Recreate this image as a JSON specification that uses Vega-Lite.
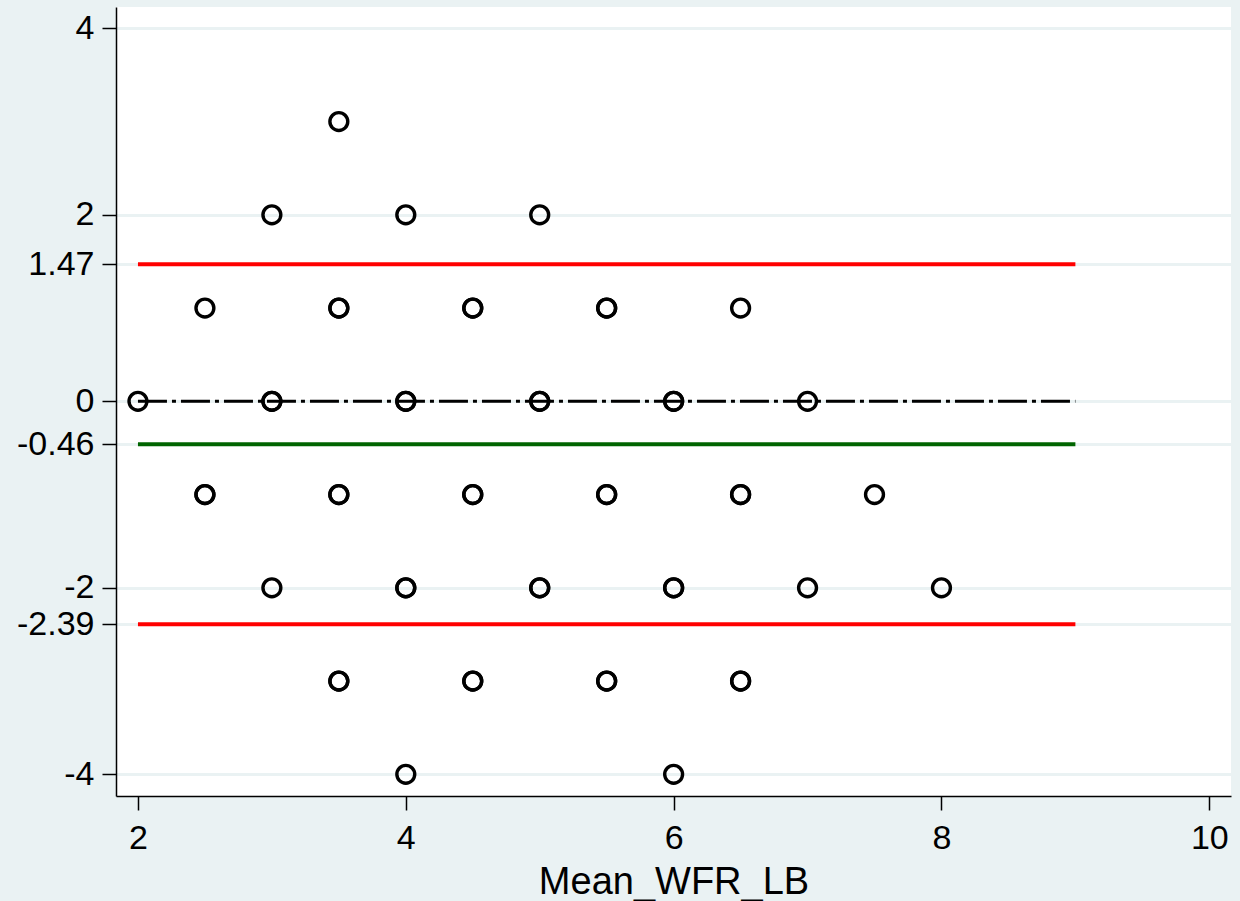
{
  "$schema": "https://vega.github.io/schema/vega-lite/v6.json",
  "autosize": "none",
  "width": 1115,
  "height": 789,
  "padding": {"left": 116, "top": 7, "right": 9, "bottom": 105},
  "background": "#EAF2F3",
  "view": {"fill": "white", "stroke": null},
  "config": {
    "font": "Liberation Sans",
    "axis": {
      "labelFont": "Liberation Sans",
      "titleFont": "Liberation Sans",
      "labelColor": "black",
      "titleColor": "black",
      "domainColor": "black",
      "domainWidth": 1.5,
      "tickColor": "black",
      "tickWidth": 1.5,
      "tickSize": 14,
      "labelFontSize": 34,
      "titleFontSize": 38,
      "titleFontWeight": "normal",
      "gridColor": "#EAF2F3",
      "gridWidth": 3
    }
  },
  "layer": [
    {
      "data": {"values": [
        {"m": 3.5, "d": 3},
        {"m": 3, "d": 2}, {"m": 4, "d": 2}, {"m": 5, "d": 2},
        {"m": 2.5, "d": 1}, {"m": 3.5, "d": 1}, {"m": 3.5, "d": 1}, {"m": 4.5, "d": 1}, {"m": 4.5, "d": 1}, {"m": 5.5, "d": 1}, {"m": 5.5, "d": 1}, {"m": 6.5, "d": 1},
        {"m": 2, "d": 0}, {"m": 3, "d": 0}, {"m": 3, "d": 0}, {"m": 4, "d": 0}, {"m": 4, "d": 0}, {"m": 5, "d": 0}, {"m": 5, "d": 0}, {"m": 6, "d": 0}, {"m": 6, "d": 0}, {"m": 7, "d": 0},
        {"m": 2.5, "d": -1}, {"m": 2.5, "d": -1}, {"m": 3.5, "d": -1}, {"m": 3.5, "d": -1}, {"m": 4.5, "d": -1}, {"m": 4.5, "d": -1}, {"m": 5.5, "d": -1}, {"m": 5.5, "d": -1}, {"m": 6.5, "d": -1}, {"m": 6.5, "d": -1}, {"m": 7.5, "d": -1},
        {"m": 3, "d": -2}, {"m": 4, "d": -2}, {"m": 4, "d": -2}, {"m": 5, "d": -2}, {"m": 5, "d": -2}, {"m": 6, "d": -2}, {"m": 6, "d": -2}, {"m": 7, "d": -2}, {"m": 8, "d": -2},
        {"m": 3.5, "d": -3}, {"m": 3.5, "d": -3}, {"m": 4.5, "d": -3}, {"m": 4.5, "d": -3}, {"m": 5.5, "d": -3}, {"m": 5.5, "d": -3}, {"m": 6.5, "d": -3}, {"m": 6.5, "d": -3},
        {"m": 4, "d": -4}, {"m": 6, "d": -4}
      ]},
      "mark": {"type": "point", "shape": "circle", "filled": false, "stroke": "black", "strokeWidth": 3.4, "size": 320, "opacity": 1},
      "encoding": {
        "x": {
          "field": "m", "type": "quantitative",
          "scale": {"domain": [1.836, 10.162], "nice": false, "zero": false},
          "axis": {
            "values": [2, 4, 6, 8, 10],
            "labelExpr": "'' + datum.value",
            "grid": false,
            "title": "Mean_WFR_LB",
            "titleY": 97,
            "titleBaseline": "alphabetic",
            "labelBaseline": "alphabetic",
            "labelPadding": 38,
            "labelFlush": false
          }
        },
        "y": {
          "field": "d", "type": "quantitative",
          "scale": {"domain": [-4.233, 4.229], "nice": false, "zero": false},
          "axis": {
            "values": [4, 2, 1.47, 0, -0.46, -2, -2.39, -4],
            "labelExpr": "'' + datum.value",
            "grid": true,
            "title": null,
            "labelPadding": 8,
            "labelFlush": false
          }
        }
      }
    },
    {
      "data": {"values": [{"y": 1.47, "x1": 2, "x2": 9}, {"y": -2.39, "x1": 2, "x2": 9}]},
      "mark": {"type": "rule", "color": "#FF0000", "strokeWidth": 4},
      "encoding": {
        "x": {"field": "x1", "type": "quantitative"},
        "x2": {"field": "x2"},
        "y": {"field": "y", "type": "quantitative"}
      }
    },
    {
      "data": {"values": [{"y": -0.46, "x1": 2, "x2": 9}]},
      "mark": {"type": "rule", "color": "#006400", "strokeWidth": 4},
      "encoding": {
        "x": {"field": "x1", "type": "quantitative"},
        "x2": {"field": "x2"},
        "y": {"field": "y", "type": "quantitative"}
      }
    },
    {
      "data": {"values": [{"y": 0, "x1": 2, "x2": 9}]},
      "mark": {"type": "rule", "color": "black", "strokeWidth": 3, "strokeDash": [29, 5, 4, 5]},
      "encoding": {
        "x": {"field": "x1", "type": "quantitative"},
        "x2": {"field": "x2"},
        "y": {"field": "y", "type": "quantitative"}
      }
    }
  ]
}
